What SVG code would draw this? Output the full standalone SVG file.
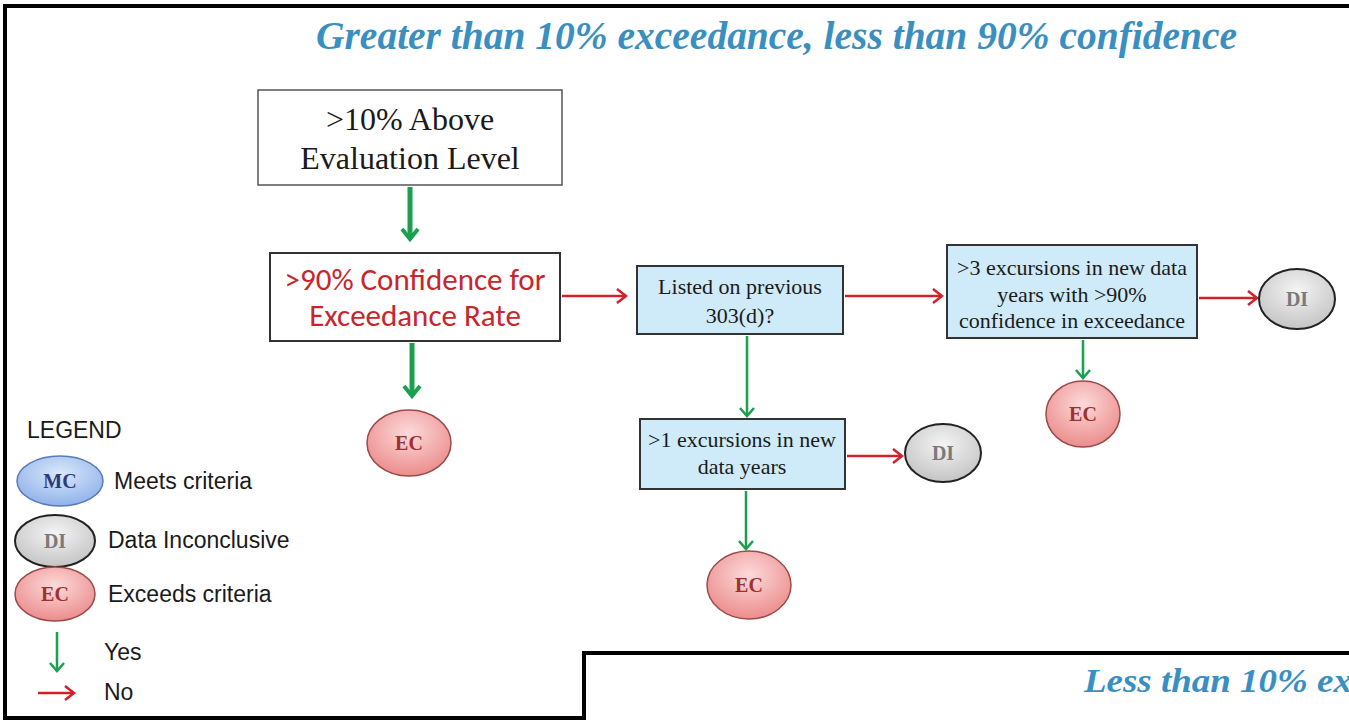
<svg xmlns="http://www.w3.org/2000/svg" width="1349" height="721" viewBox="0 0 1349 721">
<defs>
<style>
.frame{fill:none;stroke:#000;stroke-width:4}
.title{font-family:"Liberation Serif",serif;font-weight:bold;font-style:italic;fill:#3a8fc2}
.box{fill:#fff;stroke:#555;stroke-width:1.5}
.box2{fill:#fff;stroke:#333;stroke-width:2}
.bbox{fill:#cfeaf8;stroke:#333;stroke-width:2}
.serif{font-family:"Liberation Serif",serif;fill:#1a1a1a;text-anchor:middle}
.red{font-family:"Carlito","Liberation Sans",sans-serif;fill:#c8262c;text-anchor:middle}
.lab{font-family:"Liberation Serif",serif;font-weight:bold;text-anchor:middle;font-size:20px}
.leg{font-family:"Liberation Sans",Arial,sans-serif;fill:#1a1a1a;font-size:23px}
.g{stroke:#1aa04e;fill:none}
.r{stroke:#d4202a;fill:none;stroke-width:2.5}
.ec{fill:url(#gEC);stroke:#9a4a4a;stroke-width:1.5}
.di{fill:url(#gDI);stroke:#222;stroke-width:2}
.mc{fill:url(#gMC);stroke:#5a7ab8;stroke-width:1.5}
</style>
<radialGradient id="gEC" cx="50%" cy="35%" r="65%"><stop offset="0" stop-color="#fcdada"/><stop offset="1" stop-color="#ec8c8c"/></radialGradient>
<radialGradient id="gDI" cx="50%" cy="35%" r="65%"><stop offset="0" stop-color="#f4f4f4"/><stop offset="1" stop-color="#c4c4c4"/></radialGradient>
<radialGradient id="gMC" cx="50%" cy="35%" r="65%"><stop offset="0" stop-color="#dbe8fb"/><stop offset="1" stop-color="#8fb2ea"/></radialGradient>
<marker id="ag" markerUnits="userSpaceOnUse" markerWidth="30" markerHeight="30" refX="15" refY="15" orient="auto"><path d="M5,7 L15,15 L5,23" fill="none" stroke="#1aa04e" stroke-width="4"/></marker>
<marker id="agt" markerUnits="userSpaceOnUse" markerWidth="24" markerHeight="24" refX="12" refY="12" orient="auto"><path d="M4,5 L12,12 L4,19" fill="none" stroke="#1aa04e" stroke-width="2.5"/></marker>
<marker id="ar" markerUnits="userSpaceOnUse" markerWidth="24" markerHeight="24" refX="12" refY="12" orient="auto"><path d="M3,5 L12,12 L3,19" fill="none" stroke="#d4202a" stroke-width="2.5"/></marker>
</defs>
<rect width="1349" height="721" fill="#fff"/>
<g id="frames">
<path class="frame" d="M1349,6 L5,6 L5,718 L584,718 L584,653 L1349,653"/>
</g>
<text class="title" x="316" y="49" font-size="40" textLength="921" lengthAdjust="spacingAndGlyphs">Greater than 10% exceedance, less than 90% confidence</text>
<text class="title" x="1084" y="692" font-size="34" textLength="268" lengthAdjust="spacingAndGlyphs">Less than 10% ex</text>
<g id="connectors">
<line class="g" stroke-width="5" x1="410" y1="187" x2="410" y2="239" marker-end="url(#ag)"/>
<line class="g" stroke-width="5" x1="412" y1="343" x2="412" y2="396" marker-end="url(#ag)"/>
<line class="r" x1="562" y1="296" x2="626" y2="296" marker-end="url(#ar)"/>
<line class="r" x1="845" y1="296" x2="942" y2="296" marker-end="url(#ar)"/>
<line class="r" x1="1199" y1="298" x2="1257" y2="298" marker-end="url(#ar)"/>
<line class="g" stroke-width="2.5" x1="1083" y1="340" x2="1083" y2="378" marker-end="url(#agt)"/>
<line class="g" stroke-width="2.5" x1="747" y1="336" x2="747" y2="416" marker-end="url(#agt)"/>
<line class="r" x1="847" y1="456" x2="902" y2="456" marker-end="url(#ar)"/>
<line class="g" stroke-width="2.5" x1="746" y1="491" x2="746" y2="549" marker-end="url(#agt)"/>
</g>
<g id="n-above">
<rect class="box" x="258" y="90" width="304" height="95"/>
<text class="serif" x="410" y="130" font-size="32">&gt;10% Above</text>
<text class="serif" x="410" y="169" font-size="32">Evaluation Level</text>
</g>
<g id="n-conf">
<rect class="box2" x="270" y="253" width="290" height="88"/>
<text class="red" x="415" y="290" font-size="31">&gt;90% Confidence for</text>
<text class="red" x="415" y="326" font-size="31">Exceedance Rate</text>
</g>
<g id="n-ec1">
<ellipse class="ec" cx="409" cy="443" rx="42" ry="33"/>
<text class="lab" x="409" y="450" fill="#9b3232">EC</text>
</g>
<g id="n-listed">
<rect class="bbox" x="637" y="266" width="206" height="68"/>
<text class="serif" x="740" y="294" font-size="22">Listed on previous</text>
<text class="serif" x="740" y="323" font-size="22">303(d)?</text>
</g>
<g id="n-3exc">
<rect class="bbox" x="947" y="245" width="250" height="93"/>
<text class="serif" x="1072" y="275" font-size="22">&gt;3 excursions in new data</text>
<text class="serif" x="1072" y="302" font-size="22">years with &gt;90%</text>
<text class="serif" x="1072" y="328" font-size="22">confidence in exceedance</text>
</g>
<g id="n-di1">
<ellipse class="di" cx="1297" cy="299" rx="38" ry="30"/>
<text class="lab" x="1297" y="306" fill="#7a7a7a">DI</text>
</g>
<g id="n-ec2">
<ellipse class="ec" cx="1083" cy="414" rx="37" ry="33"/>
<text class="lab" x="1083" y="421" fill="#9b3232">EC</text>
</g>
<g id="n-1exc">
<rect class="bbox" x="640" y="419" width="205" height="70"/>
<text class="serif" x="742" y="447" font-size="22">&gt;1 excursions in new</text>
<text class="serif" x="742" y="474" font-size="22">data years</text>
</g>
<g id="n-di2">
<ellipse class="di" cx="943" cy="453" rx="38" ry="29"/>
<text class="lab" x="943" y="460" fill="#7a7a7a">DI</text>
</g>
<g id="n-ec3">
<ellipse class="ec" cx="749" cy="585" rx="42" ry="34"/>
<text class="lab" x="749" y="592" fill="#9b3232">EC</text>
</g>
<g id="legend">
<text class="leg" x="27" y="438" font-size="27">LEGEND</text>
<ellipse class="mc" cx="60" cy="481" rx="43" ry="25"/>
<text class="lab" x="60" y="488" fill="#2a3d7a">MC</text>
<text class="leg" x="114" y="489">Meets criteria</text>
<ellipse class="di" cx="55" cy="541" rx="40" ry="26"/>
<text class="lab" x="55" y="548" fill="#7a7a7a">DI</text>
<text class="leg" x="108" y="548">Data Inconclusive</text>
<ellipse class="ec" cx="55" cy="594" rx="40" ry="27"/>
<text class="lab" x="55" y="601" fill="#9b3232">EC</text>
<text class="leg" x="108" y="602">Exceeds criteria</text>
<line class="g" stroke-width="2.5" x1="57" y1="632" x2="57" y2="671" marker-end="url(#agt)"/>
<text class="leg" x="104" y="660">Yes</text>
<line class="r" x1="38" y1="693" x2="74" y2="693" marker-end="url(#ar)"/>
<text class="leg" x="104" y="700">No</text>
</g>
</svg>
